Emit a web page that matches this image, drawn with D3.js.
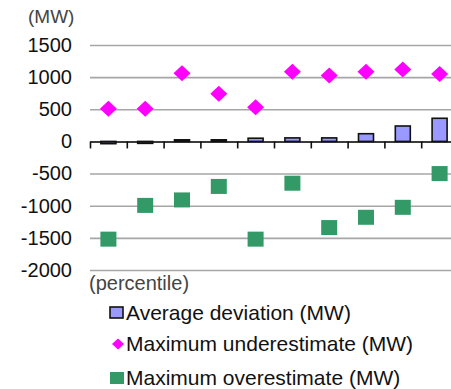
<!DOCTYPE html>
<html>
<head>
<meta charset="utf-8">
<script src="https://cdn.jsdelivr.net/npm/d3@7"></script>
<style>
  body { margin: 0; background: #fff; }
  svg { display: block; font-family: "Liberation Sans", Arial, sans-serif; }
</style>
</head>
<body>
<svg></svg>
<script>
let width = 451
let height = 389

// percentile classes (no labels are shown on the axis)
let categories = ["10", "20", "30", "40", "50", "60", "70", "80", "90", "100"]
let averageDeviation = [-35, -30, 25, 25, 50, 55, 55, 120, 240, 360]
let maxUnderestimate = [510, 510, 1060, 740, 530, 1085, 1025, 1085, 1120, 1050]
let maxOverestimate = [-1520, -995, -910, -700, -1520, -650, -1340, -1180, -1025, -500]
let yTicks = [1500, 1000, 500, 0, -500, -1000, -1500, -2000]

let legendItems = [
  { name: "Average deviation (MW)", type: "bar" },
  { name: "Maximum underestimate (MW)", type: "diamond" },
  { name: "Maximum overestimate (MW)", type: "square" }
]

let plotLeft = 90
let plotRight = 458
let plotTop = 45
let plotBottom = 270

let svg = d3.select("svg")
  .attr("width", width)
  .attr("height", height)

let xScale = d3.scaleBand()
  .domain(categories)
  .range([plotLeft, plotRight])

let yScale = d3.scaleLinear()
  .domain([-2000, 1500])
  .range([plotBottom, plotTop])

// gridlines + y labels
let yAxis = d3.axisLeft(yScale)
  .tickValues(yTicks)
  .tickSize(-(plotRight - plotLeft))
  .tickPadding(18)
  .tickFormat((d) => String(d))

let gy = svg.append("g")
  .attr("transform", "translate(" + plotLeft + ",0)")
  .call(yAxis)

gy.select(".domain").remove()
gy.selectAll(".tick line")
  .attr("stroke", "#a6a6a6")
  .attr("stroke-width", 1.6)
gy.selectAll(".tick text")
  .attr("fill", "#111")
  .style("font-size", "20px")

svg.append("text")
  .attr("x", 28)
  .attr("y", 23)
  .attr("fill", "#444")
  .style("font-size", "19px")
  .text("(MW)")

// bars
let barWidth = 15
svg.selectAll(".bar")
  .data(averageDeviation)
  .enter()
  .append("rect")
  .attr("class", "bar")
  .attr("x", (d, i) => xScale(categories[i]) + xScale.bandwidth() / 2 - barWidth / 2)
  .attr("y", (d) => yScale(Math.max(0, d)))
  .attr("width", barWidth)
  .attr("height", (d) => Math.abs(yScale(d) - yScale(0)))
  .attr("fill", "#9999ff")
  .attr("stroke", "#111")
  .attr("stroke-width", 1.6)

// zero axis with ticks on the category boundaries
let tickScale = d3.scaleLinear()
  .domain([0, categories.length])
  .range([plotLeft, plotRight])

let xAxis = d3.axisBottom(tickScale)
  .ticks(categories.length)
  .tickSize(7)
  .tickSizeOuter(0)
  .tickFormat("")

let gx = svg.append("g")
  .attr("transform", "translate(0," + yScale(0) + ")")
  .call(xAxis)

gx.select(".domain")
  .attr("stroke", "#111")
  .attr("stroke-width", 1.6)
gx.selectAll(".tick line")
  .attr("stroke", "#111")
  .attr("stroke-width", 1.6)

// markers
let cx = (i) => xScale(categories[i]) + xScale.bandwidth() / 2

svg.selectAll(".under")
  .data(maxUnderestimate)
  .enter()
  .append("path")
  .attr("class", "under")
  .attr("transform", (d, i) => "translate(" + cx(i) + "," + yScale(d) + ")")
  .attr("d", "M0,-8L8.5,0L0,8L-8.5,0Z")
  .attr("fill", "#ff00ff")

svg.selectAll(".over")
  .data(maxOverestimate)
  .enter()
  .append("rect")
  .attr("class", "over")
  .attr("x", (d, i) => cx(i) - 8)
  .attr("y", (d) => yScale(d) - 7.5)
  .attr("width", 16)
  .attr("height", 15)
  .attr("fill", "#339966")

svg.append("text")
  .attr("x", 89)
  .attr("y", 290)
  .attr("fill", "#444")
  .style("font-size", "20px")
  .text("(percentile)")

// legend
let legendY = [313, 344, 378]
let legend = svg.selectAll(".legend")
  .data(legendItems)
  .enter()
  .append("g")
  .attr("class", "legend")
  .attr("transform", (d, i) => "translate(0," + legendY[i] + ")")

legend.each(function (d) {
  let g = d3.select(this)
  if (d.type === "bar") {
    g.append("rect")
      .attr("x", 110).attr("y", -6)
      .attr("width", 13).attr("height", 11)
      .attr("fill", "#9999ff")
      .attr("stroke", "#111")
      .attr("stroke-width", 1.6)
  } else if (d.type === "diamond") {
    g.append("path")
      .attr("transform", "translate(118,0)")
      .attr("d", "M0,-5.5L6,0L0,5.5L-6,0Z")
      .attr("fill", "#ff00ff")
  } else {
    g.append("rect")
      .attr("x", 110).attr("y", -6)
      .attr("width", 14).attr("height", 12)
      .attr("fill", "#339966")
  }
  g.append("text")
    .attr("x", 126)
    .attr("y", 7)
    .attr("fill", "#111")
    .style("font-size", "21px")
    .text(d.name)
})
</script>
</body>
</html>
